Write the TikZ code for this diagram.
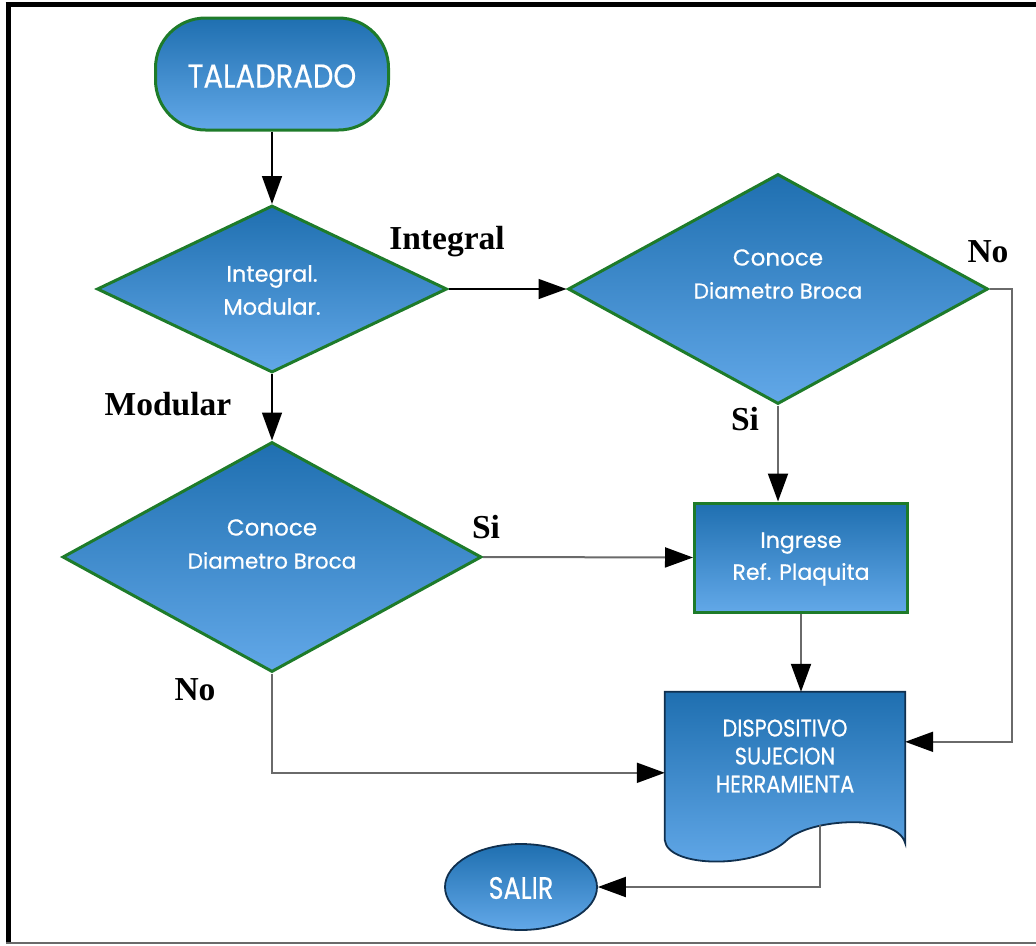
\documentclass[tikz,border=0pt]{standalone}
\usepackage{graphicx}
\usepackage{fontspec}
\setmainfont{Liberation Serif}
\newfontfamily\flowfont{Poppins}[FakeBold=0.5]
\usetikzlibrary{shapes.geometric,arrows.meta,calc}

\definecolor{flowTop}{HTML}{1F6FB0}
\definecolor{flowBot}{HTML}{62A8E8}
\definecolor{edgeGreen}{HTML}{1E7B2A}
\definecolor{edgeNavy}{HTML}{10304F}
\definecolor{wireGray}{HTML}{6A6A6A}

\tikzset{
  blueshade/.style={top color=flowTop, bottom color=flowBot},
  decision/.style={diamond, blueshade, draw=edgeGreen, line width=3pt, inner sep=0pt},
  intext/.style={text=white, font=\flowfont\fontsize{22.5}{33}\selectfont, align=center, inner sep=0pt},
  captext/.style={text=white, font=\flowfont\fontsize{33}{36}\selectfont, align=center, inner sep=0pt},
  answer/.style={font=\bfseries\fontsize{33.5}{36}\selectfont, inner sep=0pt},
  tipA/.style={-{Triangle[length=28pt,width=20pt,black]}},
  darkwire/.style={tipA, draw=black, line width=1.5pt},
  softwire/.style={tipA, draw=wireGray, line width=2pt},
}

\begin{document}
\begin{tikzpicture}[x=1pt, y=-1pt]
\useasboundingbox (0,0) rectangle (1036,945);

% page frame
\draw[black, line width=5.5pt] (5.5,4.5) -- (1036,4.5);
\draw[black, line width=5pt] (8.5,2) -- (8.5,943);
\draw[wireGray, line width=1.5pt] (6,943) -- (1036,943);

% start terminal
\node[blueshade, draw=edgeGreen, line width=3pt, rounded corners=50pt,
      minimum width=233pt, minimum height=112pt] (start) at (272,74) {};
\node[captext] (startt) at (272,76) {\scalebox{0.88}[1]{TALADRADO}};

% decisions
\node[decision, minimum width=350pt, minimum height=167pt] (d1) at (272,289) {};
\node[intext] (d1t) at (272,290) {Integral.\\Modular.};

\node[decision, minimum width=420pt, minimum height=230pt] (d2) at (778,289) {};
\node[intext] (d2t) at (778,274) {{\fontsize{23}{33}\selectfont Conoce}\\{\fontsize{21.5}{33}\selectfont Diametro Broca}};

\node[decision, minimum width=419pt, minimum height=230pt] (d3) at (272,557) {};
\node[intext] (d3t) at (272,544) {{\fontsize{23}{33}\selectfont Conoce}\\{\fontsize{21.5}{33}\selectfont Diametro Broca}};

% process box
\node[blueshade, draw=edgeGreen, line width=3pt, minimum width=213pt, minimum height=109pt] (ing) at (801,557.5) {};
\node[intext, font=\flowfont\fontsize{22}{32}\selectfont] (ingt) at (801,559) {Ingrese\\Ref. Plaquita};

% document shape
\node[minimum width=240pt, minimum height=151pt, inner sep=0pt] (doc) at (785,767.5) {};
\path[blueshade, draw=edgeNavy, line width=1.8pt]
  (doc.north west) -- (doc.north east) -- (doc.south east)
  .. controls ($(doc.south east)+(-8,-30)$) and ($(doc.south west)+(145,-25)$) .. ($(doc.south west)+(122,-3)$)
  .. controls ($(doc.south west)+(92,26)$) and ($(doc.south west)+(3,25)$) .. ($(doc.south west)+(0,-3)$)
  -- cycle;
\node[captext, font=\flowfont\fontsize{24}{28}\selectfont] (doct) at (785,756)
  {\scalebox{0.87}[1]{DISPOSITIVO}\\\scalebox{0.87}[1]{SUJECION}\\\scalebox{0.87}[1]{HERRAMIENTA}};

\coordinate (docR) at ($(doc.north east)+(0,50)$);
\coordinate (docL) at ($(doc.north west)+(0,81)$);
\coordinate (docB) at ($(doc.south west)+(155,-18)$);

% end terminal
\node[ellipse, blueshade, draw=edgeNavy, line width=1.8pt,
      minimum width=152pt, minimum height=86pt, inner sep=0pt] (salir) at (521,887) {};
\node[captext, font=\flowfont\fontsize{31}{34}\selectfont] (salirt) at (521,888) {\scalebox{0.82}[1]{SALIR}};

% connectors
\draw[darkwire] (start.south) -- (d1.north);
\draw[darkwire] (d1.east) -- (d2.west);
\draw[darkwire] (d1.south) -- (d3.north);
\draw[softwire] (d2.south) -- (d2.south |- ing.north);
\draw[softwire] (d3.east) -- (ing.west);
\draw[softwire] (d2.east) -- ++(22,0) |- (docR);
\draw[softwire] (ing.south) -- (ing.south |- doc.north);
\draw[softwire] (d3.south) |- (docL);
\draw[softwire] (docB) |- (salir.east);

% branch labels
\node[answer] (lint) at (447,242) {Integral};
\node[answer] (lno1) at (988,252) {No};
\node[answer] (lmod) at (168,404) {Modular};
\node[answer] (lsi1) at (745,419) {Si};
\node[answer] (lsi2) at (486,527) {Si};
\node[answer] (lno2) at (195,690) {No};
\end{tikzpicture}
\end{document}
